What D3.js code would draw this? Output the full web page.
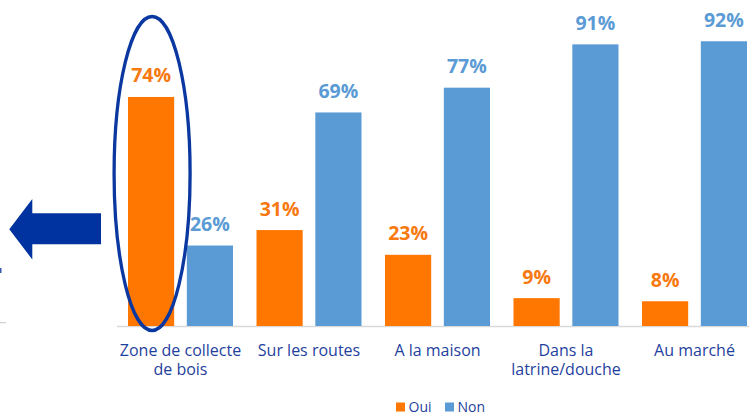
<!DOCTYPE html>
<html>
<head>
<meta charset="utf-8">
<script src="https://cdn.jsdelivr.net/npm/d3@7"></script>
<style>
  body { margin: 0; background: #fff; }
  svg { display: block; font-family: "Open Sans", sans-serif; }
</style>
</head>
<body>
<div id="chart"></div>
<script>
// categories and series
let categories = ['Zone de collecte|de bois', 'Sur les routes', 'A la maison', 'Dans la|latrine/douche', 'Au marché']
let series = ['Oui', 'Non']
let oui = [74, 31, 23, 9, 8]
let non = [26, 69, 77, 91, 92]

let width = 749
let height = 415
let baseY = 326

let colors = {'Oui': '#FF7700', 'Non': '#5B9BD5'}
let labelColors = {'Oui': '#F7790F', 'Non': '#5B9BD5'}
let navy = '#1F3F9E'

let rows = categories.map(function(c, i){
	return {cat: c, values: [{key: 'Oui', value: oui[i]}, {key: 'Non', value: non[i]}]}
})

const svg = d3.select('#chart')
	.append('svg')
	.attr('width', width)
	.attr('height', height)

let x0 = d3.scaleBand()
	.domain(categories)
	.range([116.25, 758.75])
	.paddingInner(0.183)
	.paddingOuter(0.0915)

let x1 = d3.scaleBand()
	.domain(series)
	.range([0, x0.bandwidth()])
	.paddingInner(0.215)

let y = d3.scaleLinear()
	.domain([0, 100])
	.range([baseY, baseY - 309.5])

// baseline
svg.append('line')
	.attr('x1', 117).attr('x2', width)
	.attr('y1', y(0) + 0.5).attr('y2', y(0) + 0.5)
	.attr('stroke', '#D9D9D9')
	.attr('stroke-width', 1.5)

// remnants at the left edge
svg.append('line')
	.attr('x1', 0).attr('x2', 6)
	.attr('y1', 322.7).attr('y2', 322.7)
	.attr('stroke', '#D0D0D0')
	.attr('stroke-width', 1.2)
svg.append('rect')
	.attr('x', 0).attr('y', 268)
	.attr('width', 1.5).attr('height', 5)
	.attr('fill', '#3A5BB0')

let groups = svg.selectAll('.grp')
	.data(rows)
	.enter()
	.append('g')
	.attr('class', 'grp')
	.attr('transform', d => `translate(${x0(d.cat)},0)`)

groups.selectAll('rect')
	.data(d => d.values)
	.enter()
	.append('rect')
	.attr('x', d => x1(d.key))
	.attr('y', d => y(d.value))
	.attr('width', x1.bandwidth())
	.attr('height', d => y(0) - y(d.value))
	.attr('fill', d => colors[d.key])

groups.selectAll('.val')
	.data(d => d.values)
	.enter()
	.append('text')
	.attr('class', 'val')
	.attr('x', d => x1(d.key) + x1.bandwidth() / 2)
	.attr('y', d => y(d.value) - 14.5)
	.attr('text-anchor', 'middle')
	.attr('font-size', 19.5)
	.attr('font-weight', 'bold')
	.attr('fill', d => labelColors[d.key])
	.text(d => d.value + '%')

// category labels, one text per line
let catLines = []
categories.forEach(function(c){
	c.split('|').forEach(function(p, i){
		catLines.push({cat: c, line: p, row: i})
	})
})

svg.append('g')
	.selectAll('text')
	.data(catLines)
	.enter()
	.append('text')
	.attr('x', d => x0(d.cat) + x0.bandwidth() / 2)
	.attr('y', d => baseY + 30 + d.row * 19)
	.attr('text-anchor', 'middle')
	.attr('font-size', 16)
	.attr('fill', navy)
	.text(d => d.line)

// legend
let legendX = {'Oui': 396, 'Non': 445}
let legend = svg.selectAll('.leg')
	.data(series)
	.enter()
	.append('g')
	.attr('class', 'leg')
	.attr('transform', d => `translate(${legendX[d]},402.5)`)
legend.append('rect')
	.attr('width', 9).attr('height', 9)
	.attr('fill', d => colors[d])
legend.append('text')
	.attr('x', 12.5)
	.attr('y', 9.3)
	.attr('font-size', 14)
	.attr('fill', navy)
	.text(d => d)

// highlight ellipse around first orange bar
let firstCx = x0(categories[0]) + x1('Oui') + x1.bandwidth() / 2
svg.append('ellipse')
	.attr('cx', firstCx + 1)
	.attr('cy', 173.5)
	.attr('rx', 38)
	.attr('ry', 157)
	.attr('fill', 'none')
	.attr('stroke', '#0A37A0')
	.attr('stroke-width', 3.3)

// arrow pointing left
svg.append('path')
	.attr('d', 'M9.3,229.3 L32.3,199 L32.3,213.3 L101,213.3 L101,244.3 L32.3,244.3 L32.3,259.5 Z')
	.attr('fill', '#0033A0')
</script>
</body>
</html>
